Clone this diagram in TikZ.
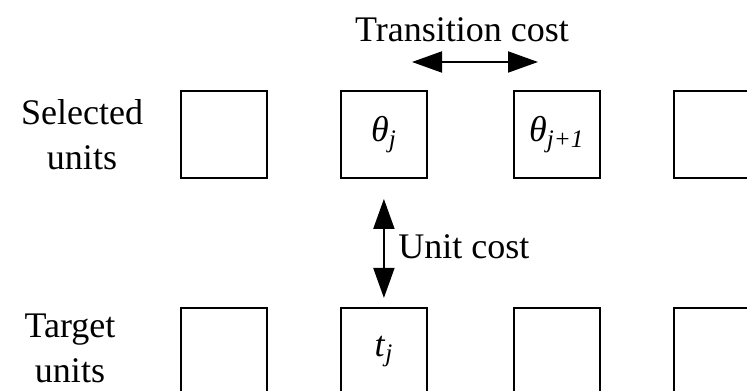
\documentclass[tikz,border=0pt]{standalone}
\usepackage{fontspec}
\setmainfont{Liberation Serif}
\usepackage{tikz}
\usetikzlibrary{arrows.meta,positioning}

\begin{document}
\begin{tikzpicture}[x=0.02cm,y=-0.02cm,>={Triangle[length=0.6cm,width=0.42cm]},
  every node/.style={font=\fontsize{20.5}{25.6}\selectfont},
  unit/.style={draw,line width=1.1pt,minimum width=1.72cm,minimum height=1.74cm,inner sep=0pt},
  lbl/.style={align=center,inner sep=0pt},
  cost/.style={<->,line width=1.1pt}]
  \useasboundingbox (0,0) rectangle (747,391);
  \node[unit] (sel1) at (224,134.5) {};
  \node[unit,right=1.44cm of sel1] (sel2) {\textit{θ}\textsubscript{\textit{j}}};
  \node[unit,right=1.7cm of sel2] (sel3) {\textit{θ}\textsubscript{\textit{j+1}}};
  \node[unit,right=1.44cm of sel3] (sel4) {};
  \node[unit,below=2.56cm of sel1] (tgt1) {};
  \node[unit,below=2.56cm of sel2] (tgt2) {\textit{t}\textsubscript{\textit{j}}};
  \node[unit,below=2.56cm of sel3] (tgt3) {};
  \node[unit,below=2.56cm of sel4] (tgt4) {};
  \node[lbl] (selLbl) at (82,135) {Selected\\units};
  \node[lbl] (tgtLbl) at (70,348) {Target\\units};
  \node[anchor=base,inner sep=0pt] (trLbl) at (462,42) {Transition cost};
  \coordinate (trL) at (412,62);
  \coordinate (trR) at (538,62);
  \draw[cost] (trL) -- (trR);
  \draw[cost,shorten <=0.4cm,shorten >=0.18cm] (sel2) -- (tgt2);
  \node[anchor=base west,inner sep=0pt] (unitLbl) at (398,259) {Unit cost};
\end{tikzpicture}
\end{document}
